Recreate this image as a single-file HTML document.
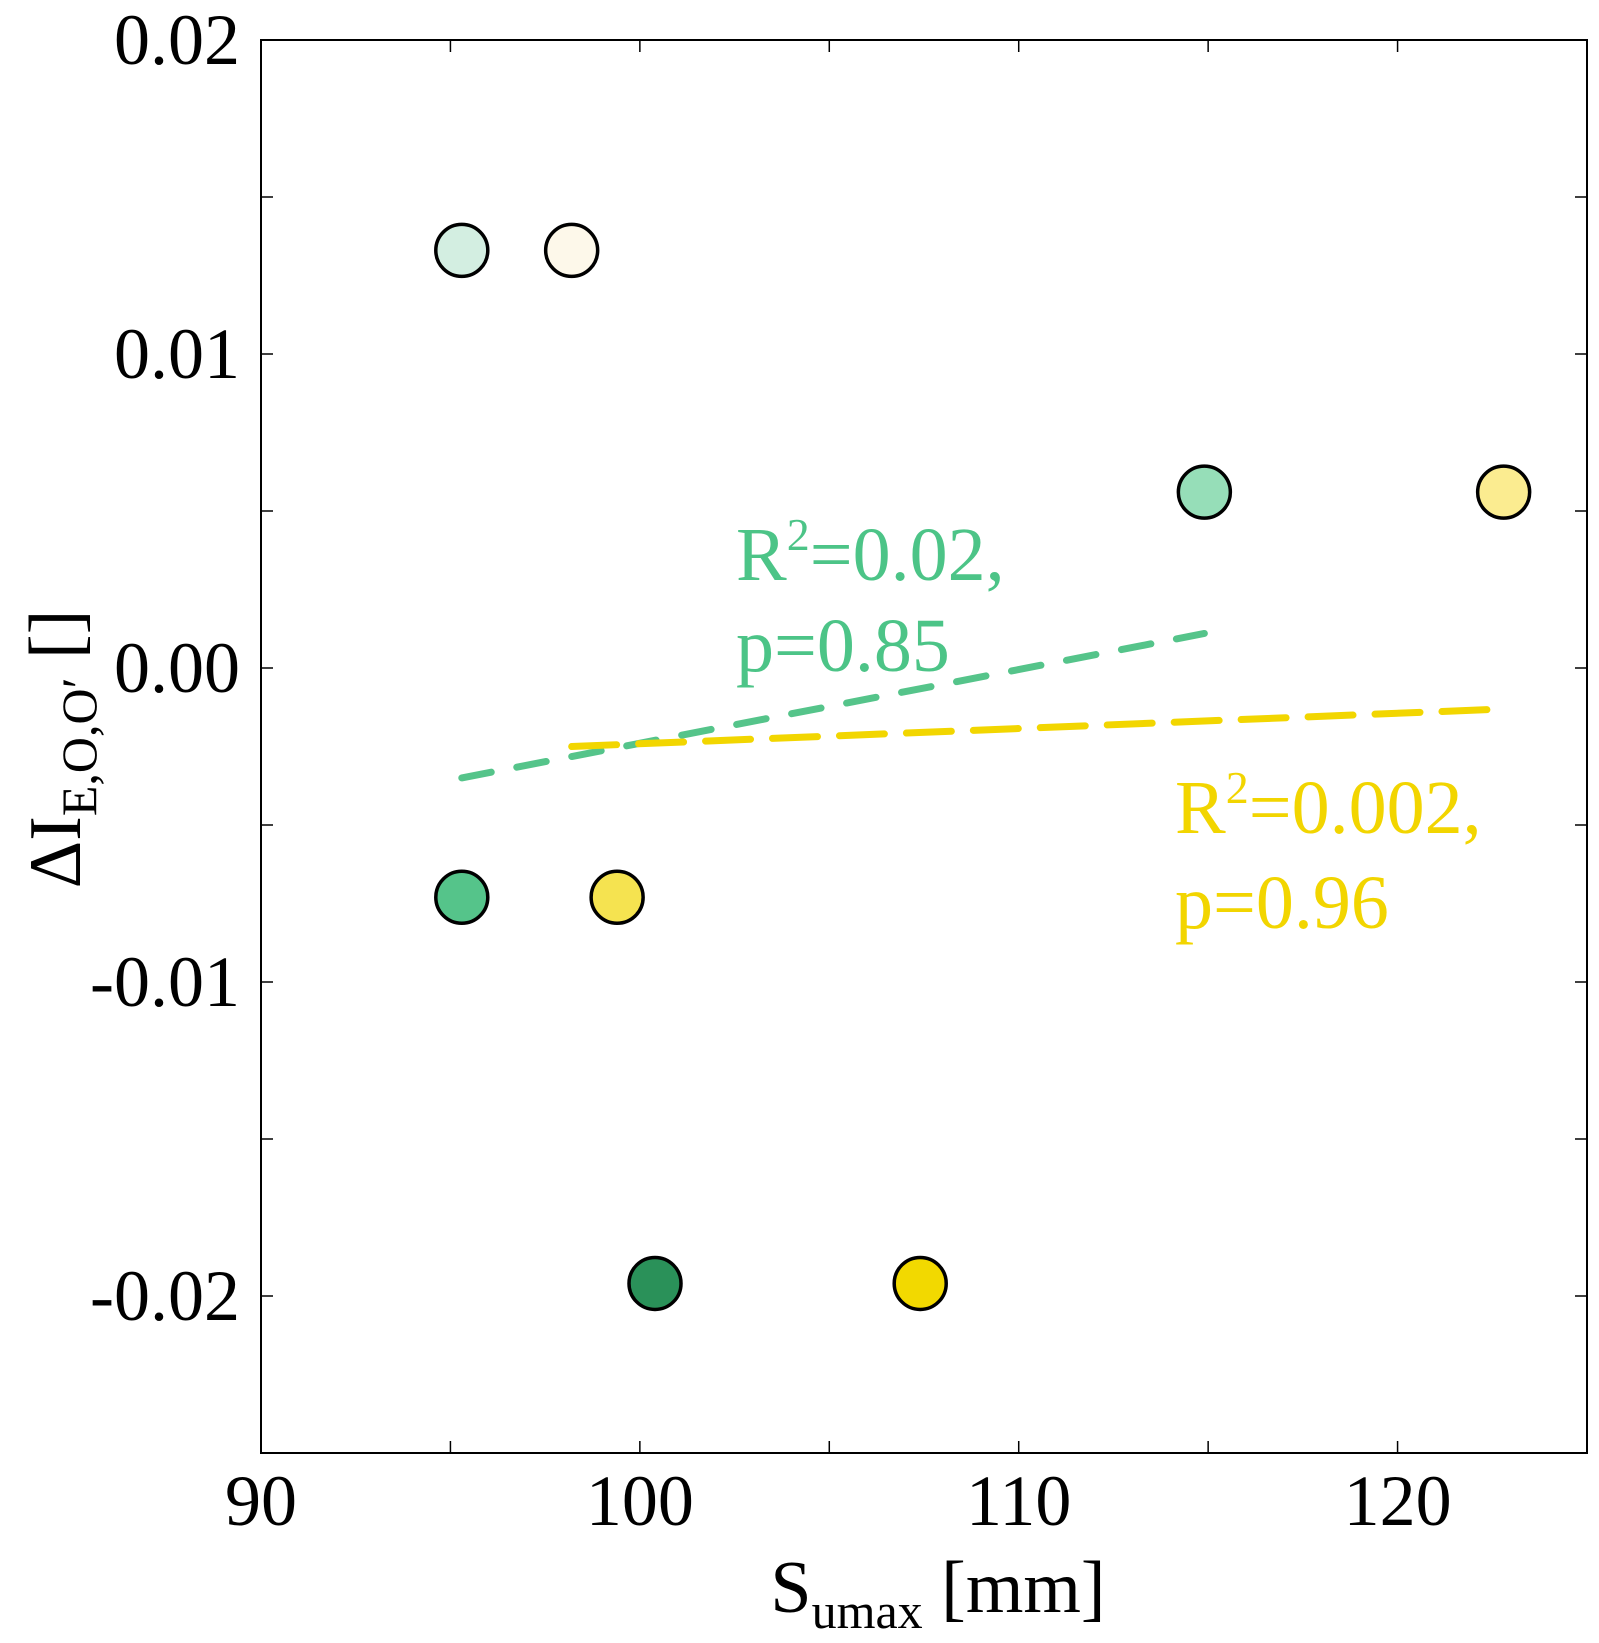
<!DOCTYPE html>
<html><head><meta charset="utf-8"><style>
html,body{margin:0;padding:0;background:#fff;}
svg{display:block;font-family:"Liberation Serif",serif;}
</style></head><body>
<svg id="chart" width="1599" height="1643" viewBox="0 0 1599 1643" style="position:absolute;left:0;top:0"></svg>
<script>
const xTicks=[90,100,110,120];
const xMinor=[95,105,115,125];
const yTicks=[0.02,0.01,0.00,-0.01,-0.02];
const yTickLabels=["0.02","0.01","0.00","-0.01","-0.02"];
const yMinor=[0.015,0.005,-0.005,-0.015,-0.025];
const greenX=[95.3,95.3,100.4,114.9];
const greenY=[0.0133,-0.0073,-0.0196,0.0056];
const greenFill=["#d3eee1","#55c48a","#2a9159","#96deb8"];
const yellowX=[98.2,99.4,107.4,122.8];
const yellowY=[0.0133,-0.0073,-0.0196,0.0056];
const yellowFill=["#fdf8ea","#f5e350","#f2d900","#fbec90"];
const greenFitX=[95.3,114.9];
const greenFitY=[-0.0035,0.0011];
const yellowFitX=[98.2,122.9];
const yellowFitY=[-0.0025,-0.0013];

const L=261,R=1587,T=40,B=1453;
const xmin=90,xmax=125,ymin=-0.025,ymax=0.02;
const sx=v=>L+(v-xmin)/(xmax-xmin)*(R-L);
const sy=v=>B-(v-ymin)/(ymax-ymin)*(B-T);
const svg=document.getElementById('chart');
const NS="http://www.w3.org/2000/svg";
function mk(tag,attrs,parent){const e=document.createElementNS(NS,tag);for(const k in attrs)e.setAttribute(k,attrs[k]);(parent||svg).appendChild(e);return e;}

const frame=mk('rect',{x:L,y:T,width:R-L,height:B-T,fill:'none',stroke:'#000','stroke-width':2});



const tl=12;
xTicks.concat(xMinor).forEach(v=>{
  const x=sx(v);
  const t1=mk('line',{x1:x,x2:x,y1:B,y2:B-tl,stroke:'#000','stroke-width':1.5});
  
  
  const t2=mk('line',{x1:x,x2:x,y1:T,y2:T+tl,stroke:'#000','stroke-width':1.5});
  
  
});
xTicks.forEach(v=>{
  const t=mk('text',{x:sx(v),y:1525,'text-anchor':'middle','font-size':72});
  t.textContent=String(v);
  
  
});
yTicks.concat(yMinor).forEach(v=>{
  const y=sy(v);
  const t1=mk('line',{x1:L,x2:L+tl,y1:y,y2:y,stroke:'#000','stroke-width':1.5});
  
  
  const t2=mk('line',{x1:R,x2:R-tl,y1:y,y2:y,stroke:'#000','stroke-width':1.5});
  
  
});
yTicks.forEach((v,i)=>{
  const t=mk('text',{x:240,y:sy(v)+24,'text-anchor':'end','font-size':72});
  t.textContent=yTickLabels[i];
  
  
});

const gl=mk('line',{x1:sx(greenFitX[0]),y1:sy(greenFitY[0]),x2:sx(greenFitX[1]),y2:sy(greenFitY[1]),stroke:'#55c48a','stroke-width':7,'stroke-dasharray':'30 26','stroke-linecap':'round'});


const yl=mk('line',{x1:sx(yellowFitX[0]),y1:sy(yellowFitY[0]),x2:sx(yellowFitX[1]),y2:sy(yellowFitY[1]),stroke:'#f2d600','stroke-width':7,'stroke-dasharray':'45 22','stroke-linecap':'round'});



greenX.forEach((v,i)=>{
  const c=mk('circle',{cx:sx(v),cy:sy(greenY[i]),r:26,fill:greenFill[i],stroke:'#000','stroke-width':3.5});
  
  
});
yellowX.forEach((v,i)=>{
  const c=mk('circle',{cx:sx(v),cy:sy(yellowY[i]),r:26,fill:yellowFill[i],stroke:'#000','stroke-width':3.5});
  
  
});
</script>
<div style="position:absolute;left:0;top:0;width:1599px;height:1643px;pointer-events:none">
<svg width="1599" height="1643" style="font-family:'Liberation Serif',serif">
<text x="736" y="580" font-size="76" fill="#4cc487">R<tspan font-size="46" dy="-30">2</tspan><tspan dy="30">=0.02,</tspan></text>
<text x="736" y="671" font-size="76" fill="#4cc487">p=0.85</text>
<text x="1175" y="833" font-size="76" fill="#f2d500">R<tspan font-size="46" dy="-30">2</tspan><tspan dy="30">=0.002,</tspan></text>
<text x="1175" y="928" font-size="76" fill="#f2d500">p=0.96</text>
<text x="938" y="1612" font-size="74" text-anchor="middle">S<tspan font-size="50" dy="16">umax</tspan><tspan dy="-16"> [mm]</tspan></text>
<text transform="translate(80,749) rotate(-90)" font-size="74" text-anchor="middle">ΔI<tspan font-size="50" dy="16">E,O,O′</tspan><tspan dy="-16"> []</tspan></text>
</svg>
</div>
</body></html>
